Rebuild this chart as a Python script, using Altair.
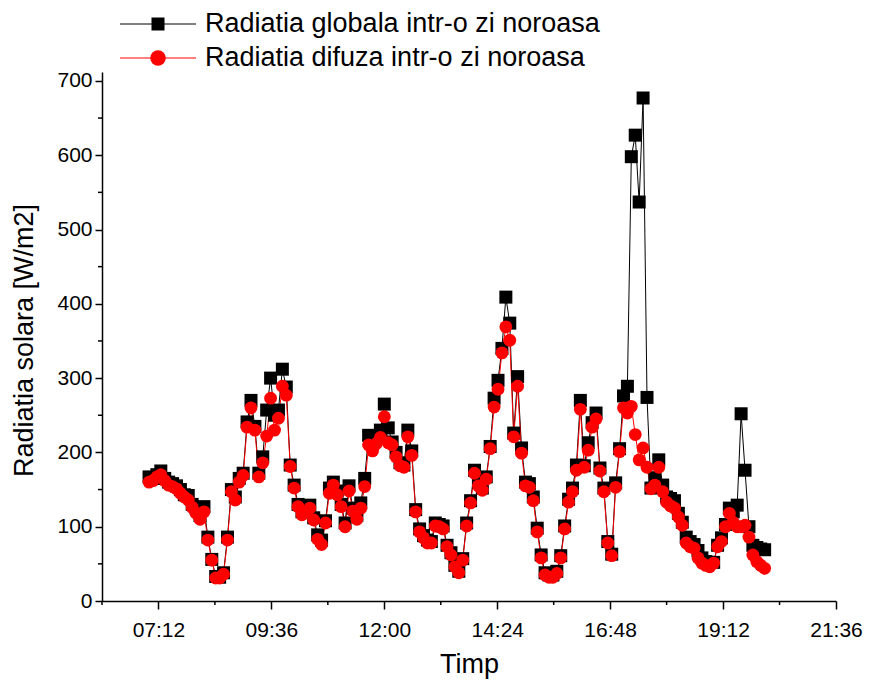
import altair as alt
import pandas as pd

FONT = "Liberation Sans"
SERIES = ["Radiatia globala intr-o zi noroasa", "Radiatia difuza intr-o zi noroasa"]
COLORS = ["#000000", "#ff0000"]
SHAPES = ["square", "circle"]
SIZES = [169, 165]

START = "2000-01-01 07:00"
STEP = "5min"

GLOBAL = [167, 165, 170, 175, 165, 160, 158, 155, 150, 143,
          142, 130, 125, 115, 127, 86, 56, 33, 32, 38,
          86, 150, 140, 165, 172, 241, 270, 235, 172, 194,
          257, 300, 250, 257, 312, 288, 183, 156, 130, 120,
          124, 129, 112, 89, 82, 108, 152, 160, 148, 130,
          105, 155, 125, 115, 132, 165, 223, 212, 222, 230,
          265, 233, 214, 200, 186, 183, 230, 202, 123, 97,
          88, 82, 80, 105, 103, 101, 75, 65, 48, 40,
          57, 105, 135, 176, 160, 152, 167, 208, 273, 297,
          340, 409, 374, 226, 302, 206, 160, 158, 140, 98,
          62, 38, 35, 35, 40, 61, 101, 137, 152, 183,
          270, 182, 213, 240, 253, 179, 152, 80, 63, 159,
          205, 276, 289, 598, 627, 537, 677, 274, 152, 166,
          190, 156, 140, 138, 135, 118, 106, 86, 80, 76,
          68, 58, 53, 52, 52, 75, 85, 103, 125, 120,
          129, 252, 176, 100, 75, 72, 70, 69]

DIFUZA = [160, 162, 167, 170, 162, 156, 154, 151, 145, 140,
          136, 126, 118, 110, 120, 82, 55, 31, 31, 36,
          82, 147, 136, 160, 169, 234, 260, 230, 167, 186,
          222, 273, 230, 246, 289, 277, 181, 152, 127, 116,
          120, 125, 109, 83, 76, 105, 145, 156, 143, 127,
          100, 148, 121, 110, 125, 154, 210, 202, 212, 220,
          248, 213, 210, 194, 182, 180, 221, 196, 120, 93,
          85, 78, 78, 101, 100, 97, 73, 62, 46, 38,
          55, 101, 132, 172, 155, 149, 164, 205, 261, 285,
          334, 369, 351, 221, 289, 199, 155, 153, 135, 93,
          58, 35, 32, 32, 37, 58, 97, 133, 147, 176,
          258, 180, 203, 234, 245, 175, 147, 78, 61, 153,
          201, 260, 253, 262, 224, 190, 206, 180, 151, 156,
          180, 147, 133, 128, 125, 113, 102, 78, 73, 71,
          58, 51, 48, 46, 51, 73, 80, 100, 118, 106,
          100, 100, 102, 86, 62, 53, 48, 44]

X_MAJOR = ["07:12", "09:36", "12:00", "14:24", "16:48", "19:12", "21:36"]
X_MINOR = ["06:00", "08:24", "10:48", "13:12", "15:36", "18:00", "20:24"]
X_DOMAIN = ["06:00", "21:36"]
Y_MAJOR = [0, 100, 200, 300, 400, 500, 600, 700]
Y_MINOR = [50, 150, 250, 350, 450, 550, 650]
Y_DOMAIN = [0, 712]

X_TITLE = "Timp"
Y_TITLE = "Radiatia solara [W/m2]"

W, H = 734, 529


def dt(hm):
    h, m = map(int, hm.split(":"))
    return alt.DateTime(year=2000, month=1, date=1, hours=h, minutes=m)


times = pd.date_range(START, periods=len(GLOBAL), freq=STEP)
df = pd.concat([
    pd.DataFrame({"t": times, "v": GLOBAL, "s": SERIES[0], "o": 0}),
    pd.DataFrame({"t": times, "v": DIFUZA, "s": SERIES[1], "o": 1}),
], ignore_index=True)

x_minor_df = pd.DataFrame({"t": pd.to_datetime(["2000-01-01 " + v for v in X_MINOR])})
y_minor_df = pd.DataFrame({"v": Y_MINOR})

X_AXIS = alt.Axis(
    values=[dt(v) for v in X_MAJOR], format="%H:%M", grid=False,
    labelFont=FONT, labelFontSize=21, labelColor="black", labelPadding=10,
    labelFlush=False, labelOverlap=False,
    tickColor="black", tickSize=8, tickWidth=1.5,
    domainColor="black", domainWidth=1.5,
    titleFont=FONT, titleFontSize=27, titleFontWeight="normal", titleColor="black",
    titleY=71, titleBaseline="alphabetic",
)
Y_AXIS = alt.Axis(
    values=Y_MAJOR, grid=False,
    labelFont=FONT, labelFontSize=21, labelColor="black", labelPadding=3,
    tickColor="black", tickSize=7, tickWidth=1.5,
    domainColor="black", domainWidth=1.5,
    titleFont=FONT, titleFontSize=27, titleFontWeight="normal", titleColor="black",
    titleX=-78, titleY=268, titleAngle=270, titleAlign="center", titleBaseline="middle",
)

X_ENC = alt.X("t:T", title=X_TITLE,
              scale=alt.Scale(domain=[dt(v) for v in X_DOMAIN], nice=False),
              axis=X_AXIS)
Y_ENC = alt.Y("v:Q", title=Y_TITLE,
              scale=alt.Scale(domain=Y_DOMAIN, nice=False, zero=False),
              axis=Y_AXIS)

color = alt.Color("s:N", scale=alt.Scale(domain=SERIES, range=COLORS), legend=None)

lines = alt.Chart(df).mark_line(strokeWidth=1).encode(
    x=X_ENC, y=Y_ENC, color=color, detail="s:N", order="t:T"
)
points = alt.Chart(df).mark_point(filled=True, opacity=1, strokeWidth=0).encode(
    x=X_ENC, y=Y_ENC, color=color,
    shape=alt.Shape("s:N", scale=alt.Scale(domain=SERIES, range=SHAPES), legend=None),
    size=alt.Size("s:N", scale=alt.Scale(domain=SERIES, range=SIZES), legend=None),
    order=alt.Order("o:Q"),
)

x_minor = alt.Chart(x_minor_df).mark_rule(color="black", strokeWidth=1.5).encode(
    x=X_ENC, y=alt.value(H), y2=alt.value(H + 4)
)
y_minor = alt.Chart(y_minor_df).mark_rule(color="black", strokeWidth=1.5).encode(
    y=Y_ENC, x=alt.value(0), x2=alt.value(-4)
)

legend_layers = []
LEG_Y = [-48, -14]
LEG_SIZES = [169, 240]
for i, name in enumerate(SERIES):
    one = pd.DataFrame({"s": [name]})
    legend_layers.append(
        alt.Chart(one).mark_rule(color=COLORS[i], strokeWidth=1).encode(
            x=alt.value(18), x2=alt.value(94), y=alt.value(LEG_Y[i]))
    )
    legend_layers.append(
        alt.Chart(one).mark_point(shape=SHAPES[i], filled=True, opacity=1,
                                  size=LEG_SIZES[i], color=COLORS[i], strokeWidth=0).encode(
            x=alt.value(56), y=alt.value(LEG_Y[i]))
    )
    legend_layers.append(
        alt.Chart(one).mark_text(text=name, align="left", baseline="middle",
                                 font=FONT, fontSize=27, color="black").encode(
            x=alt.value(103), y=alt.value(LEG_Y[i]))
    )

chart = alt.layer(lines, points, x_minor, y_minor, *legend_layers).properties(
    width=W, height=H,
    padding={"left": 94, "top": 64, "right": 28, "bottom": 78},
    autosize=alt.AutoSizeParams(type="none"),
    background="white",
).configure_view(stroke=None)

chart.save("out.html", embed_options={"renderer": "svg", "actions": False})
